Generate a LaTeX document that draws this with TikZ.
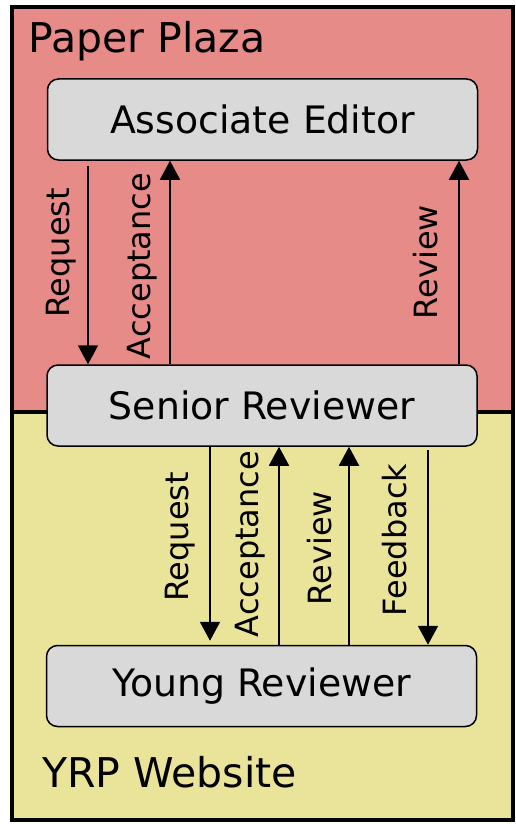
\documentclass[tikz,border=0pt]{standalone}
\usepackage{fontspec}
\setmainfont{DejaVu Sans}
\usetikzlibrary{arrows.meta}
\definecolor{pinkbg}{RGB}{230,139,135}
\definecolor{yellowbg}{RGB}{233,228,153}
\definecolor{boxgray}{RGB}{217,217,217}
\tikzset{
  actor/.style={draw=black, line width=1.5pt, fill=boxgray, rounded corners=11pt,
    minimum width=430pt, minimum height=81pt, inner sep=0pt,
    font=\fontsize{37.8}{40}\selectfont},
  arr/.style={line width=1.9pt, -{Triangle[width=20pt,length=19pt]}},
  lbl/.style={rotate=90, inner sep=0pt, font=\fontsize{32}{34}\selectfont},
  title/.style={anchor=base west, inner sep=0pt, font=\fontsize{41}{44}\selectfont}
}
\begin{document}
\begin{tikzpicture}[x=1pt,y=-1pt]
\useasboundingbox (0,0) rectangle (515,824);
\fill[pinkbg] (12,7) rectangle (513,412);
\fill[yellowbg] (12,412) rectangle (513,820);
\draw[line width=3.5pt] (12,412) -- (513,412);
\draw[line width=3.5pt] (12,7) rectangle (513,820);

\node[title] (pp) at (28,53) {Paper Plaza};
\node[title] (yrp) at (42,787) {YRP Website};

\node[actor] (ae) at (262.5,119.5) {Associate Editor};
\node[actor] (sr) at (262,405.5) {Senior Reviewer};
\node[actor] (yr) at (261.5,686) {Young Reviewer};

% upper arrows
\draw[arr] ([yshift=-5pt]ae.south -| 88,0) -- (sr.north -| 88,0);
\draw[arr] (sr.north -| 170,0) -- (ae.south -| 170,0);
\draw[arr] (sr.north -| 459,0) -- (ae.south -| 459,0);
\node[lbl] (l1) at (61,253) {Request};
\node[lbl] (l2) at (142,266) {Acceptance};
\node[lbl] (l3) at (426,262) {Review};

% lower arrows
\draw[arr] (sr.south -| 210,0) -- ([yshift=4pt]yr.north -| 210,0);
\draw[arr] (yr.north -| 279,0) -- (sr.south -| 279,0);
\draw[arr] (yr.north -| 349,0) -- (sr.south -| 349,0);
\draw[arr] ([yshift=-3pt]sr.south -| 428,0) -- (yr.north -| 428,0);
\node[lbl] (l4) at (180,537) {Request};
\node[lbl] (l5) at (250,544) {Acceptance};
\node[lbl] (l6) at (320,548) {Review};
\node[lbl] (l7) at (395,540) {Feedback};
\end{tikzpicture}
\end{document}
